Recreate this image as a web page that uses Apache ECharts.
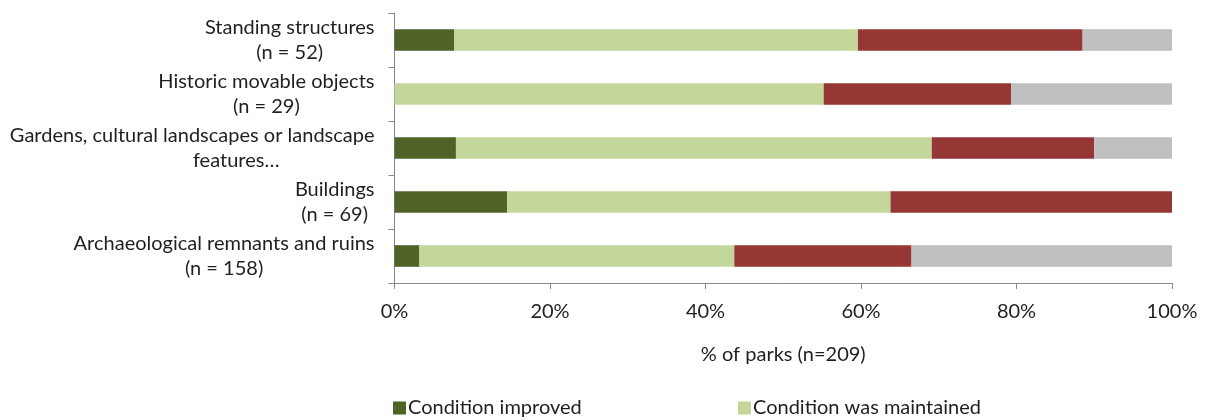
<!DOCTYPE html>
<html>
<head>
<meta charset="utf-8">
<script src="https://cdn.jsdelivr.net/npm/echarts@6/dist/echarts.min.js"></script>
<style>
  html, body { margin: 0; padding: 0; background: #fff; }
  #chart { width: 1207px; height: 420px; }
</style>
</head>
<body>
<div id="chart"></div>
<script>
// Heritage asset types, top to bottom
const categories = [
  'Standing structures\n(n = 52)',
  'Historic movable objects\n(n = 29)',
  'Gardens, cultural landscapes or landscape\nfeatures\u2026',
  'Buildings\n(n = 69)',
  'Archaeological remnants and ruins\n(n = 158)'
];

// Share of parks (%) per condition outcome
const improved   = [7.7, 0, 7.9, 14.5, 3.2];
const maintained = [51.9, 55.2, 61.2, 49.3, 40.5];
const declined   = [28.9, 24.1, 20.9, 36.2, 22.8];
const unknown    = [11.5, 20.7, 10.0, 0, 33.5];

const seriesNames = ['Condition improved', 'Condition was maintained', 'Condition declined', 'Unknown'];
const seriesColors = ['#4F6228', '#C4D79B', '#953735', '#BFBFBF'];
const xTicks = [0, 20, 40, 60, 80, 100];

const FONT = 'Lato';
const TEXT = '#1f1f1f';
const SIZE = 20;

const chart = echarts.init(document.getElementById('chart'), null, { renderer: 'canvas' });

const seriesData = [improved, maintained, declined, unknown];

function legendAt(name, left) {
  return {
    data: [name], left: left, top: 398, padding: 0, itemWidth: 13, itemHeight: 13, itemGap: 4,
    icon: 'rect', textStyle: { fontFamily: FONT, fontSize: SIZE, color: TEXT, padding: [0, 0, 0, -3] }
  };
}

chart.setOption({
  animation: false,
  textStyle: { fontFamily: FONT },
  grid: { left: 394.5, right: 35, top: 13, bottom: 137, containLabel: false },
  legend: [legendAt(seriesNames[0], 393), legendAt(seriesNames[1], 738)],
  xAxis: {
    type: 'value', min: xTicks[0], max: xTicks[xTicks.length - 1], interval: 20,
    name: '% of parks (n=209)', nameLocation: 'middle', nameGap: 62,
    nameTextStyle: { fontFamily: FONT, fontSize: SIZE, color: TEXT },
    axisLine: { show: true, lineStyle: { color: '#888', width: 1 } },
    axisTick: { show: true, length: 6, lineStyle: { color: '#888' } },
    splitLine: { show: false },
    axisLabel: { formatter: '{value}%', margin: 19, fontFamily: FONT, fontSize: SIZE, color: TEXT }
  },
  yAxis: {
    type: 'category', inverse: true, data: categories,
    axisLine: { show: true, lineStyle: { color: '#888', width: 1 } },
    axisTick: { show: true, length: 6, lineStyle: { color: '#888' } },
    axisLabel: {
      margin: 20, fontFamily: FONT, fontSize: SIZE, color: TEXT, lineHeight: 25,
      formatter: function (v) {
        // truncated continuation lines sit a little right of centre
        return v.split('\n').map(function (s) {
          return (s.slice(-1) === '\u2026' ? '{t|' : '{c|') + s + '}';
        }).join('\n');
      },
      rich: {
        c: { align: 'center', fontFamily: FONT, fontSize: SIZE, color: TEXT, lineHeight: 25 },
        t: { align: 'center', fontFamily: FONT, fontSize: SIZE, color: TEXT, lineHeight: 25, padding: [0, 0, 0, 88] }
      }
    }
  },
  series: seriesNames.map(function (name, i) {
    return {
      name: name, type: 'bar', stack: 'total', data: seriesData[i],
      barCategoryGap: '60%',
      itemStyle: { color: seriesColors[i] }
    };
  })
});
</script>
</body>
</html>
